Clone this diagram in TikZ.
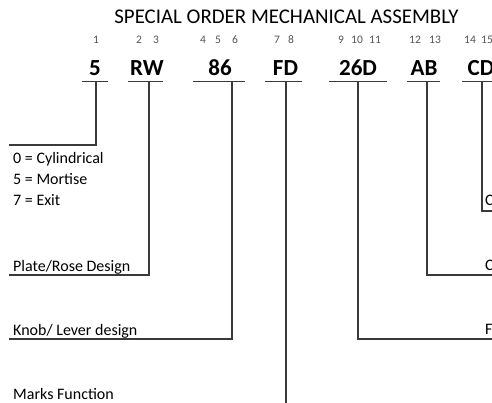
\documentclass[tikz,border=0pt]{standalone}
\usepackage{fontspec}
\setmainfont{Carlito}
\definecolor{linec}{HTML}{3A3A3A}
\definecolor{numc}{HTML}{555555}
\begin{document}
\begin{tikzpicture}[x=1pt,y=-1pt,
  conn/.style={draw=linec,line width=1.6pt},
  titletxt/.style={anchor=base,inner sep=0pt,font=\fontsize{20.9}{24}\selectfont},
  num/.style={anchor=base,inner sep=0pt,text=numc,font=\fontsize{11.5}{13}\selectfont},
  code/.style={anchor=base,inner sep=0pt,font=\fontsize{23}{27}\selectfont\bfseries},
  lbl/.style={anchor=base west,inner sep=0pt,font=\fontsize{16}{19}\selectfont}]
\useasboundingbox (0,0) rectangle (492,402);
\clip (0,0) rectangle (492,402);
\fill[white] (0,0) rectangle (492,402);
% title
\node[titletxt] (title) at (286.5,23) {SPECIAL ORDER MECHANICAL ASSEMBLY};
% position numbers
\node[num] (n1) at (96,43) {1};
\node[num] (n2) at (139,43) {2};
\node[num] (n3) at (156,43) {3};
\node[num] (n4) at (203,43) {4};
\node[num] (n5) at (218,43) {5};
\node[num] (n6) at (235,43) {6};
\node[num] (n7) at (277,43) {7};
\node[num] (n8) at (291,43) {8};
\node[num] (n9) at (341,43) {9};
\node[num] (n10) at (357,43) {10};
\node[num] (n11) at (375,43) {11};
\node[num] (n12) at (415,43) {12};
\node[num] (n13) at (435,43) {13};
\node[num] (n14) at (470,43) {14};
\node[num] (n15) at (487,43) {15};
% codes
\node[code] (c1) at (95,75) {5};
\node[code] (c2) at (147,75) {RW};
\node[code] (c3) at (220,75) {86};
\node[code] (c4) at (285.5,75) {FD};
\node[code] (c5) at (358,75) {26D};
\node[code] (c6) at (424,75) {AB};
\node[code] (c7) at (481,75) {CD};
% underline coordinates
\coordinate (u1l) at (82,81.5);  \coordinate (u1r) at (108,81.5); \coordinate (u1) at (96,81.5);
\coordinate (u2l) at (128,81.5); \coordinate (u2r) at (163,81.5); \coordinate (u2) at (149,81.5);
\coordinate (u3l) at (193,81.5); \coordinate (u3r) at (245,81.5); \coordinate (u3) at (232,81.5);
\coordinate (u4l) at (265,81.5); \coordinate (u4r) at (302,81.5); \coordinate (u4) at (286,81.5);
\coordinate (u5l) at (329,81.5); \coordinate (u5r) at (387,81.5); \coordinate (u5) at (358,81.5);
\coordinate (u6l) at (407,81.5); \coordinate (u6r) at (440,81.5); \coordinate (u6) at (427,81.5);
\coordinate (u7l) at (462,81.5); \coordinate (u7r) at (500,81.5); \coordinate (u7) at (482,81.5);
\foreach \i in {1,...,7} {\draw[conn] (u\i l) -- (u\i r);}
% labels
\node[lbl] (l1a) at (13,163) {0 = Cylindrical};
\node[lbl] (l1b) at (13,184) {5 = Mortise};
\node[lbl] (l1c) at (13,205) {7 = Exit};
\node[lbl] (l2) at (13,271) {Plate/Rose Design};
\node[lbl] (l3) at (13,335) {Knob/ Lever design};
\node[lbl] (l4) at (13,399) {Marks Function};
\node[lbl] (r7) at (485,205) {C};
\node[lbl] (r6) at (485,270.5) {C};
\node[lbl] (r5) at (485,334.5) {F};
% end coordinates
\coordinate (e1) at (9,145);
\coordinate (e2) at (9,275);
\coordinate (e3) at (9,339);
\coordinate (e4) at (286,405);
\coordinate (e5) at (500,339);
\coordinate (e6) at (500,275);
\coordinate (e7) at (500,211);
% connectors
\draw[conn] (u1) |- (e1);
\draw[conn] (u2) |- (e2);
\draw[conn] (u3) |- (e3);
\draw[conn] (u4) -- (e4);
\draw[conn] (u5) |- (e5);
\draw[conn] (u6) |- (e6);
\draw[conn] (u7) |- (e7);
\end{tikzpicture}
\end{document}
